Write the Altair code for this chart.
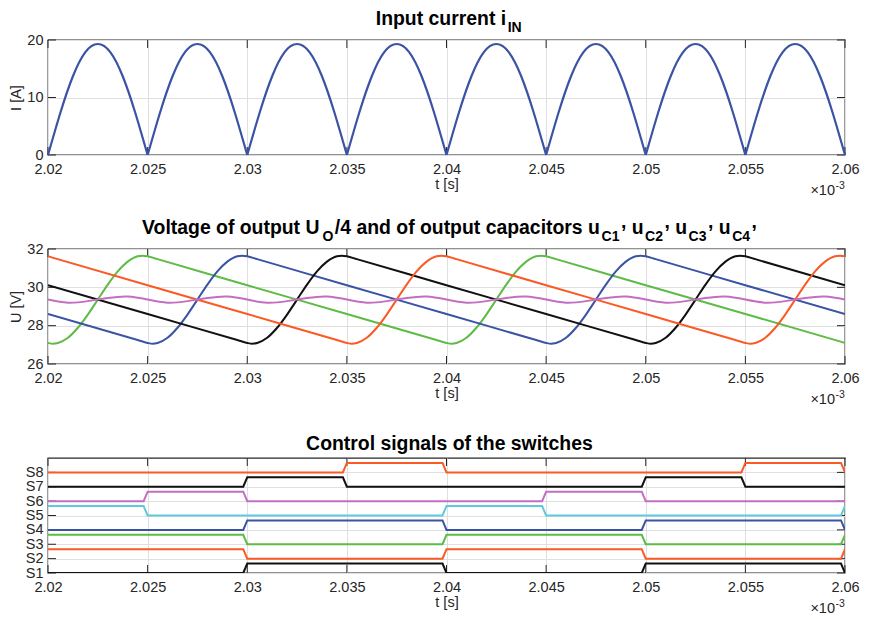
import altair as alt
import pandas as pd

FONT = "Liberation Sans"
W, H = 797, 115
INK = "#262626"
GRID = "#DFDFDF"
TICK = 8
TTL, SUB = 19.4, 14          # title / subscript font sizes
LBL = 14.5                   # tick label font size
TITLE_DX = 3

BLUE, ORANGE, GREEN = "#3A53A4", "#FA5A24", "#5DBB46"
BLACK, PURPLE, CYAN = "#111111", "#C46EC2", "#5FCADB"

# ---------------- data ----------------
t_ticks = [2.02, 2.025, 2.03, 2.035, 2.04, 2.045, 2.05, 2.055, 2.06]
T_DOMAIN = [2.02, 2.06]

# panel 1: input current (rectified sine, one arch per half period)
i_ticks = [0, 10, 20]
arch_starts = [2.020, 2.025, 2.030, 2.035, 2.040, 2.045, 2.050, 2.055]
arch_dt = [0, 0.000625, 0.00125, 0.001875, 0.0025, 0.003125, 0.00375, 0.004375, 0.005]
arch_i = [0.0, 7.4, 13.7, 17.9, 19.3, 17.9, 13.7, 7.4, 0.0]

# panel 2: capacitor voltages and U_O/4
u_ticks = [26, 28, 30, 32]
rise_dt = [-0.0005, 0, 0.00025, 0.0005, 0.001, 0.0015, 0.002, 0.0025, 0.003,
           0.0035, 0.004, 0.0045, 0.00475, 0.005, 0.0055]
rise_u = [27.25, 27.10, 27.06, 27.10, 27.37, 27.89, 28.58, 29.36, 30.14,
          30.83, 31.34, 31.62, 31.65, 31.62, 31.47]
cap_names = ["uC1", "uC2", "uC3", "uC4"]
cap_colors = [GREEN, BLUE, BLACK, ORANGE]
cap_rise_starts = {"uC1": [2.020, 2.040], "uC2": [2.025, 2.045],
                   "uC3": [2.030, 2.050], "uC4": [2.035, 2.055]}
cap_decl_t = {"uC1": [2.030, 2.035, 2.050, 2.055, 2.060],
              "uC2": [2.020, 2.035, 2.040, 2.055, 2.060],
              "uC3": [2.020, 2.025, 2.040, 2.045, 2.060],
              "uC4": [2.020, 2.025, 2.030, 2.045, 2.050]}
cap_decl_u = {"uC1": [30.11, 28.61, 30.11, 28.61, 27.10],
              "uC2": [28.61, 30.11, 28.61, 30.11, 28.61],
              "uC3": [30.11, 28.61, 30.11, 28.61, 30.11],
              "uC4": [31.62, 30.11, 28.61, 30.11, 28.61]}
avg_t = [2.020, 2.021, 2.022, 2.023, 2.024, 2.025, 2.026, 2.027, 2.028, 2.029,
         2.030, 2.031, 2.032, 2.033, 2.034, 2.035, 2.036, 2.037, 2.038, 2.039,
         2.040, 2.041, 2.042, 2.043, 2.044, 2.045, 2.046, 2.047, 2.048, 2.049,
         2.050, 2.051, 2.052, 2.053, 2.054, 2.055, 2.056, 2.057, 2.058, 2.059, 2.060]
avg_u = [29.36, 29.20, 29.28, 29.44, 29.52, 29.36, 29.20, 29.28, 29.44, 29.52,
         29.36, 29.20, 29.28, 29.44, 29.52, 29.36, 29.20, 29.28, 29.44, 29.52,
         29.36, 29.20, 29.28, 29.44, 29.52, 29.36, 29.20, 29.28, 29.44, 29.52,
         29.36, 29.20, 29.28, 29.44, 29.52, 29.36, 29.20, 29.28, 29.44, 29.52, 29.36]

# panel 3: switch control signals
sig_names = ["S1", "S2", "S3", "S4", "S5", "S6", "S7", "S8"]
sig_levels = [0, 1, 2, 3, 4, 5, 6, 7]
sig_colors = [BLACK, ORANGE, GREEN, BLUE, CYAN, PURPLE, BLACK, ORANGE]
sig_start = [0, 1, 1, 0, 1, 0, 0, 0]
sig_toggles = [
    [2.030, 2.040, 2.050, 2.060],
    [2.030, 2.040, 2.050, 2.060],
    [2.030, 2.040, 2.050, 2.060],
    [2.030, 2.040, 2.050, 2.060],
    [2.025, 2.040, 2.045, 2.060],
    [2.025, 2.030, 2.045, 2.050],
    [2.030, 2.035, 2.050, 2.055],
    [2.035, 2.040, 2.055, 2.060],
]
SIG_ON = 0.66
RAMP = 0.0002

# ---------------- frames ----------------
cur_rows = []
for k, t0 in enumerate(arch_starts):
    for dt, v in zip(arch_dt, arch_i):
        cur_rows.append({"t": round(t0 + dt, 7), "y": v, "s": f"a{k}"})
cur_df = pd.DataFrame(cur_rows)

cap_rows = []
for name in cap_names:
    pts = {}
    for t0 in cap_rise_starts[name]:
        for dt, u in zip(rise_dt, rise_u):
            pts[round(t0 + dt, 7)] = u
    for t, u in zip(cap_decl_t[name], cap_decl_u[name]):
        pts.setdefault(round(t, 7), u)
    for t in sorted(pts):
        cap_rows.append({"t": t, "y": pts[t], "s": name})
cap_df = pd.DataFrame(cap_rows)
avg_df = pd.DataFrame({"t": avg_t, "y": avg_u, "s": "UO/4"})

sig_rows = []
for name, lev, s0, tog in zip(sig_names, sig_levels, sig_start, sig_toggles):
    s = s0
    pts = [(T_DOMAIN[0], s)]
    for tt in tog:
        pts.append((tt - RAMP, s))
        s = 1 - s
        pts.append((tt, s))
    if pts[-1][0] < T_DOMAIN[1]:
        pts.append((T_DOMAIN[1], s))
    for i, (t, st) in enumerate(pts):
        sig_rows.append({"t": t, "y": lev + SIG_ON * st, "s": name, "o": i})
sig_df = pd.DataFrame(sig_rows)

ONE = pd.DataFrame({"k": [0]})

# ---------------- helpers ----------------
BOLD_W = {" ": 278, ",": 278, "/": 278, "1": 556, "2": 556, "3": 556, "4": 556,
          "C": 722, "I": 278, "N": 722, "O": 778, "U": 722, "V": 667,
          "a": 556, "c": 556, "d": 611, "e": 556, "f": 333, "g": 611, "h": 611,
          "i": 278, "l": 278, "n": 611, "o": 611, "p": 611, "r": 389, "s": 556,
          "t": 333, "u": 611, "w": 778}


def tw(s, size):
    return sum(BOLD_W.get(c, 556) for c in s) * size / 1000.0


def txt(text, x, y, size, weight="normal", align="left", color="#000000"):
    return alt.Chart(ONE).mark_text(
        text=text, font=FONT, fontSize=size, fontWeight=weight, align=align,
        baseline="alphabetic", color=color
    ).encode(x=alt.value(x), y=alt.value(y))


def title_layers(pieces, base_y, sub_drop=7.3, raise_by=6.0, gap=1.5):
    items, x = [], 0.0
    for text, kind in pieces:
        size = SUB if kind == "sub" else TTL
        if kind == "sub":
            x += gap
        lead = len(text) - len(text.lstrip(" "))
        xd = x + tw(text[:lead], size)
        dy = sub_drop if kind == "sub" else (-raise_by if kind == "raised" else 0)
        items.append((text.lstrip(" "), xd, base_y + dy, size))
        x += tw(text, size)
        if kind == "sub":
            x += gap
    x0 = W / 2 - x / 2 + TITLE_DX
    return [txt(t, x0 + xd, y, s, weight="bold") for t, xd, y, s in items]


def X():
    return alt.X("t:Q", scale=alt.Scale(domain=T_DOMAIN, nice=False, zero=False),
                 axis=alt.Axis(values=t_ticks, format=".4~f", title="t [s]"))


def Y(domain, ticks, title, label_expr=None):
    kw = dict(values=ticks, title=title)
    if label_expr is not None:
        kw["labelExpr"] = label_expr
    return alt.Y("y:Q", scale=alt.Scale(domain=domain, nice=False, zero=False),
                 axis=alt.Axis(**kw))


def panel(y, yticks, data_layers, title):
    xt = pd.DataFrame({"t": t_ticks})
    yt = pd.DataFrame({"y": yticks})
    rule = dict(color=INK, strokeWidth=1)
    ticks = [
        alt.Chart(xt).mark_rule(**rule).encode(x=X(), y=alt.value(0), y2=alt.value(TICK)),
        alt.Chart(xt).mark_rule(**rule).encode(x=X(), y=alt.value(H), y2=alt.value(H - TICK)),
        alt.Chart(yt).mark_rule(**rule).encode(y=y, x=alt.value(0), x2=alt.value(TICK)),
        alt.Chart(yt).mark_rule(**rule).encode(y=y, x=alt.value(W), x2=alt.value(W - TICK)),
    ]
    expo = [
        txt("×10", W - 10, H + 40, LBL, align="right", color=INK),
        txt("-3", W - 9.5, H + 34, 10.5, align="left", color=INK),
    ]
    return alt.layer(*ticks, *data_layers, *title, *expo).properties(width=W, height=H)


# ---------------- panel 1 ----------------
y1 = Y([0, 20], i_ticks, "I [A]")
p1 = panel(y1, i_ticks, [
    alt.Chart(cur_df).mark_line(color=BLUE, strokeWidth=2.2, interpolate="natural")
    .encode(x=X(), y=y1, detail="s:N")
], title_layers([("Input current i", "main"), ("IN", "sub")], -15.3))

# ---------------- panel 2 ----------------
y2 = Y([26, 32], u_ticks, "U [V]")
p2 = panel(y2, u_ticks, [
    alt.Chart(cap_df).mark_line(strokeWidth=2, interpolate="monotone", clip=True)
    .encode(x=X(), y=y2,
            color=alt.Color("s:N", scale=alt.Scale(domain=cap_names, range=cap_colors), legend=None)),
    alt.Chart(avg_df).mark_line(color=PURPLE, strokeWidth=2, interpolate="natural")
    .encode(x=X(), y=y2),
], title_layers([
    ("Voltage of output U", "main"), ("O", "sub"),
    ("/4 and of output capacitors u", "main"), ("C1", "sub"), (",", "raised"),
    (" u", "main"), ("C2", "sub"), (",", "raised"),
    (" u", "main"), ("C3", "sub"), (",", "raised"),
    (" u", "main"), ("C4", "sub"), (",", "raised"),
], -15.3))

# ---------------- panel 3 ----------------
y3 = Y([0, 8], sig_levels, None, label_expr="'S' + (datum.value + 1)")
p3 = panel(y3, sig_levels, [
    alt.Chart(sig_df).mark_line(strokeWidth=2, clip=True)
    .encode(x=X(), y=y3, order="o:Q",
            color=alt.Color("s:N", scale=alt.Scale(domain=sig_names, range=sig_colors), legend=None)),
], title_layers([("Control signals of the switches", "main")], -8))

chart = (
    alt.vconcat(p1, p2, p3, spacing=94, bounds="flush")
    .resolve_scale(color="independent")
    .properties(padding={"left": 0, "right": 0, "top": 0, "bottom": 0})
    .configure_view(stroke=INK, strokeWidth=1.3)
    .configure_axis(labelFont=FONT, titleFont=FONT, labelFontSize=LBL, titleFontSize=LBL,
                    titleFontWeight="normal", labelColor=INK, titleColor=INK,
                    domain=False, ticks=False, grid=True, gridColor=GRID, gridWidth=1,
                    labelFlush=False, labelOverlap=False)
    .configure_axisX(labelPadding=7, titlePadding=2)
    .configure_axisY(labelPadding=5, titlePadding=3)
)

chart.save("out.html", embed_options={"renderer": "svg", "actions": False})
